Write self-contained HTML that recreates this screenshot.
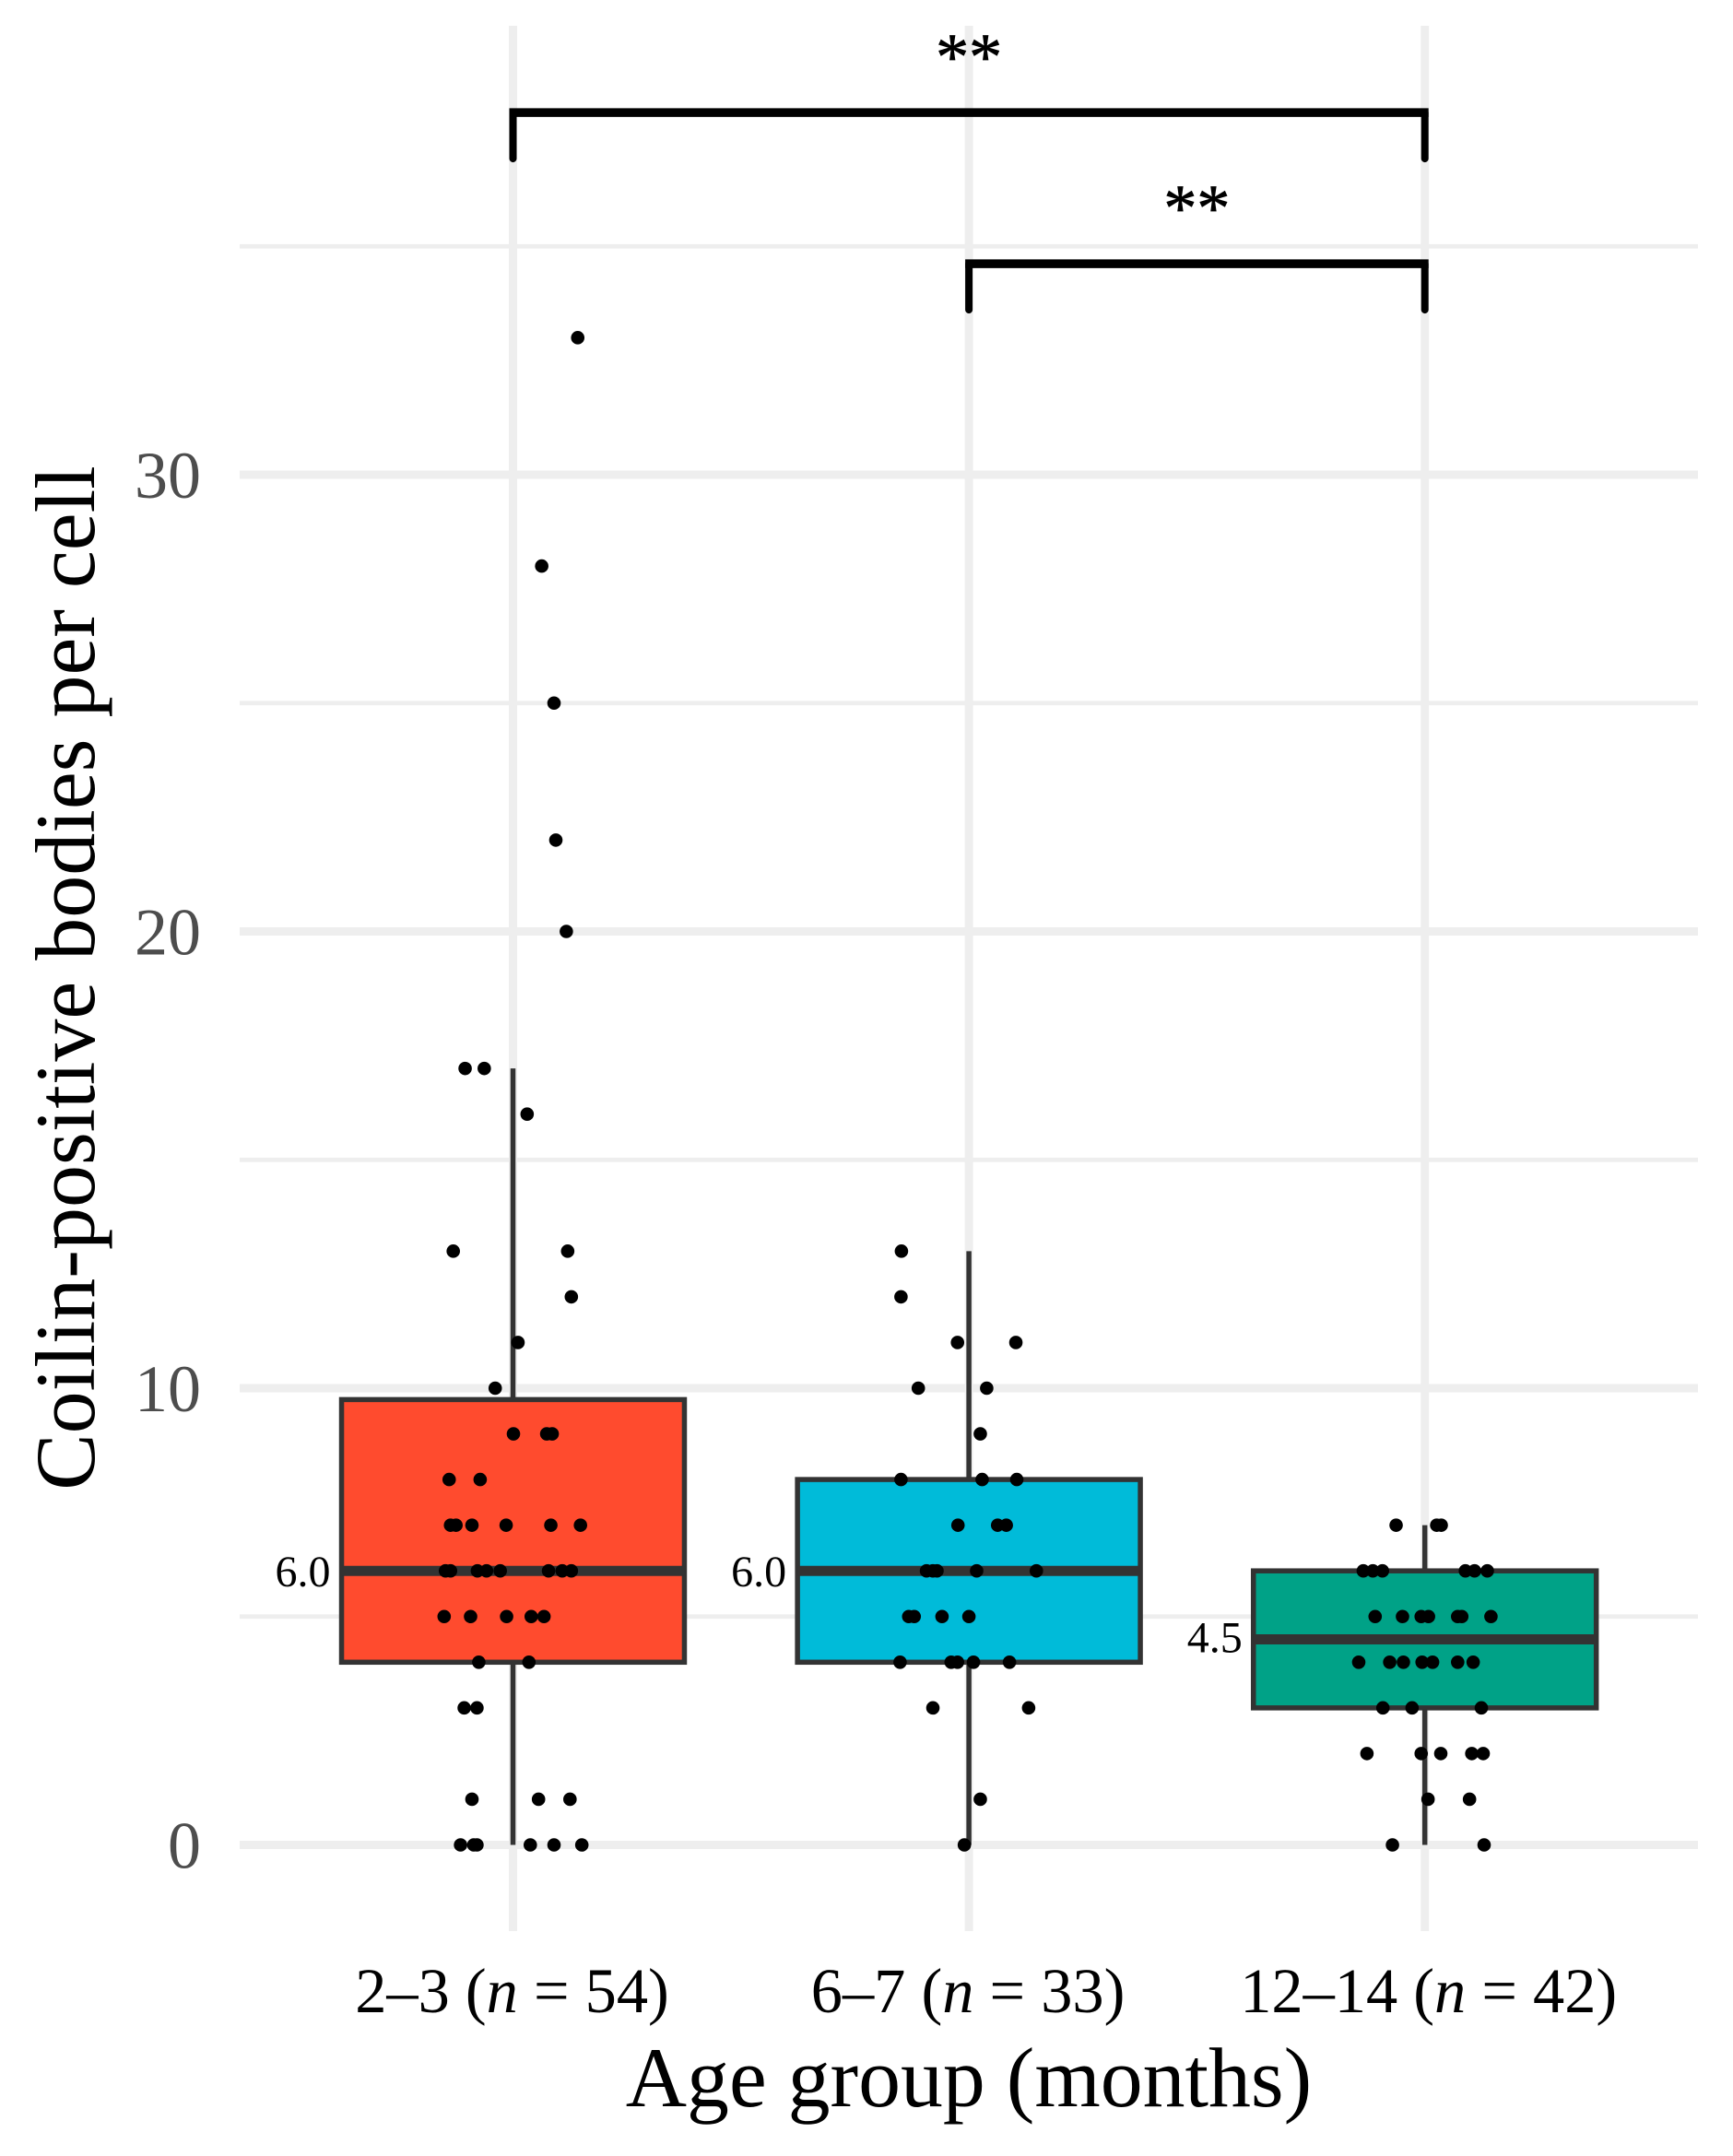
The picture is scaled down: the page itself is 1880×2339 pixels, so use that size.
<!DOCTYPE html>
<html lang="en">
<head>
<meta charset="utf-8">
<title>Coilin-positive bodies per cell by age group</title>
<style>
html,body{margin:0;padding:0;background:#fff;width:1880px;height:2339px;overflow:hidden}
svg{display:block}
text{font-family:"Liberation Serif",serif}
</style>
</head>
<body>
<svg id="chart" xmlns="http://www.w3.org/2000/svg" width="1880" height="2339" viewBox="0 0 1880 2339">
  <rect x="0" y="0" width="1880" height="2339" fill="#ffffff"/>
  <g id="grid"></g>
  <g id="boxes"></g>
  <g id="points"></g>
  <g id="labels"></g>
  <g id="signif"></g>
  <g id="yticks"></g>
  <g id="xticks"></g>
  <text transform="translate(102 1061) rotate(-90)" text-anchor="middle" font-size="92" fill="#000">Coilin-positive bodies per cell</text>
  <text x="1051" y="2285" text-anchor="middle" font-size="91.8" fill="#000">Age group (months)</text>
</svg>
<script>
const categories = ["2–3", "6–7", "12–14"];
const sampleSizes = [54, 33, 42];
const boxColors = ["#ff4b2e", "#00bbd9", "#00a287"];
const whiskerLow = [0, 0, 0];
const q1 = [4, 4, 3];
const medians = [6, 6, 4.5];
const q3 = [9.75, 8, 6];
const whiskerHigh = [17, 13, 7];
const medianText = ["6.0", "6.0", "4.5"];
const majorTicks = [0, 10, 20, 30];
const minorTicks = [5, 15, 25, 35];
const tickLabels = ["0", "10", "20", "30"];

const values1 = [0,0,0,0,0,0, 1,1,1, 3,3, 4,4, 5,5,5,5,5, 6,6,6,6,6,6,6,6, 7,7,7,7,7,7, 8,8, 9,9,9, 10, 11, 12, 13,13, 16, 17,17, 20, 22, 25, 28, 33];
const jitter1 = [-.115,-.086,-.079,.038,.090,.151, -.090,.056,.125, -.107,-.079, -.075,.035, -.151,-.093,-.014,.040,.068, -.148,-.137,-.078,-.058,-.028,.078,.108,.128, -.137,-.125,-.090,-.015,.083,.148, -.140,-.072, .001,.074,.086, -.039, .011, .128, -.131,.120, .031, -.105,-.063, .117, .094, .090, .063, .142];
const values2 = [0, 1, 3,3, 4,4,4,4,4, 5,5,5,5, 6,6,6,6,6, 7,7,7, 8,8,8, 9, 10,10, 11,11, 12, 13];
const jitter2 = [-.010, .025, -.079,.131, -.151,-.039,-.025,.010,.089, -.132,-.120,-.059,0, -.093,-.079,-.070,.017,.148, -.024,.063,.082, -.149,.029,.105, .025, -.111,.039, -.025,.103, -.149, -.148];
const values3 = [0,0, 1,1, 2,2,2,2,2, 3,3,3, 4,4,4,4,4,4,4, 5,5,5,5,5,5,5, 6,6,6,6,6,6, 7,7,7];
const jitter3 = [-.071,.130, .007,.098, -.127,-.008,.035,.103,.128, -.092,-.028,.124, -.145,-.077,-.047,-.006,.017,.072,.106, -.109,-.049,-.008,.008,.072,.081,.145, -.135,-.114,-.093,.089,.109,.137, -.063,.026,.036];
const groupValues = [values1, values2, values3];
const groupJitter = [jitter1, jitter2, jitter3];

const bracketLevels = [37.93, 34.62];
const bracketTips = [36.86, 33.55];
const bracketFrom = [1, 2];
const bracketTo = [3, 3];
const bracketText = ["**", "**"];

const NS = "http://www.w3.org/2000/svg";
const boxWidth = 0.752;
function xScale(c) { return 556.5 + (c - 1) * 494.6; }
function yScale(v) { return 2001.5 - v * 49.55; }
const panelLeft = 260, panelRight = 1842, panelTop = 28, panelBottom = 2095;

function mk(tag, parent, attrs) {
  const el = document.createElementNS(NS, tag);
  for (const k in attrs) el.setAttribute(k, attrs[k]);
  parent.appendChild(el);
  return el;
}

const grid = document.getElementById("grid");
minorTicks.forEach(function (v) {
  const el = mk("line", grid, {x1: panelLeft, x2: panelRight, y1: yScale(v), y2: yScale(v), stroke: "#eeeeee", "stroke-width": 4.7});
  
  
});
majorTicks.forEach(function (v) {
  const el = mk("line", grid, {x1: panelLeft, x2: panelRight, y1: yScale(v), y2: yScale(v), stroke: "#eeeeee", "stroke-width": 9});
  
  
});
categories.forEach(function (c, i) {
  const x = xScale(i + 1);
  const el = mk("line", grid, {x1: x, x2: x, y1: panelTop, y2: panelBottom, stroke: "#eeeeee", "stroke-width": 9});
  
  
});

const boxes = document.getElementById("boxes");
categories.forEach(function (c, i) {
  const x = xScale(i + 1);
  const hw = (xScale(1 + boxWidth / 2) - xScale(1));
  const wh = mk("line", boxes, {x1: x, x2: x, y1: yScale(whiskerLow[i]), y2: yScale(whiskerHigh[i]), stroke: "#333333", "stroke-width": 5.5});
  
  
  const box = mk("rect", boxes, {x: x - hw, y: yScale(q3[i]), width: hw * 2, height: yScale(q1[i]) - yScale(q3[i]), fill: boxColors[i], stroke: "#333333", "stroke-width": 5.5});
  
  
  const med = mk("line", boxes, {x1: x - hw, x2: x + hw, y1: yScale(medians[i]), y2: yScale(medians[i]), stroke: "#333333", "stroke-width": 11});
  
  
});

const points = document.getElementById("points");
groupValues.forEach(function (vals, g) {
  vals.forEach(function (v, j) {
    const p = mk("circle", points, {cx: xScale(g + 1 + groupJitter[g][j]), cy: yScale(v), r: 7.3, fill: "#000000"});
    
    
  });
});

const labels = document.getElementById("labels");
medians.forEach(function (m, i) {
  const hw = (xScale(1 + boxWidth / 2) - xScale(1));
  const t = mk("text", labels, {x: xScale(i + 1) - hw - 12, y: yScale(m) + 17 - (i === 2 ? 3 : 0), "text-anchor": "end", "font-size": 48, fill: "#000"});
  
  
  t.textContent = medianText[i];
});

const signif = document.getElementById("signif");
bracketLevels.forEach(function (lv, i) {
  const x1 = xScale(bracketFrom[i]), x2 = xScale(bracketTo[i]);
  const yy = yScale(lv), yt = yScale(bracketTips[i]);
  const h = mk("path", signif, {d: "M" + (x1 - 4) + " " + yy + "H" + (x2 + 4), fill: "none", stroke: "#000", "stroke-width": 9.5});
  
  
  const b = mk("path", signif, {d: "M" + x1 + " " + (yt - 3) + "V" + yy + "M" + x2 + " " + yy + "V" + (yt - 3), fill: "none", stroke: "#000", "stroke-width": 8, "stroke-linecap": "round"});
  
  
  const s = mk("text", signif, {x: (x1 + x2) / 2, y: yy - 36, "text-anchor": "middle", "font-size": 72, fill: "#000", stroke: "#000", "stroke-width": 0.8});
  
  
  s.textContent = bracketText[i];
});

const yticks = document.getElementById("yticks");
majorTicks.forEach(function (v, i) {
  const t = mk("text", yticks, {x: 218, y: yScale(v) + 25, "text-anchor": "end", "font-size": 72, fill: "#4d4d4d"});
  
  
  t.textContent = tickLabels[i];
});

const xticks = document.getElementById("xticks");
categories.forEach(function (c, i) {
  const t = mk("text", xticks, {x: xScale(i + 1) + (i === 2 ? 4 : -1), y: 2183, "text-anchor": "middle", "font-size": 68.4, fill: "#000"});
  
  
  t.appendChild(document.createTextNode(c + " ("));
  const n = mk("tspan", t, {"font-style": "italic"});
  n.textContent = "n";
  t.appendChild(document.createTextNode(" = " + sampleSizes[i] + ")"));
});
</script>
</body>
</html>
